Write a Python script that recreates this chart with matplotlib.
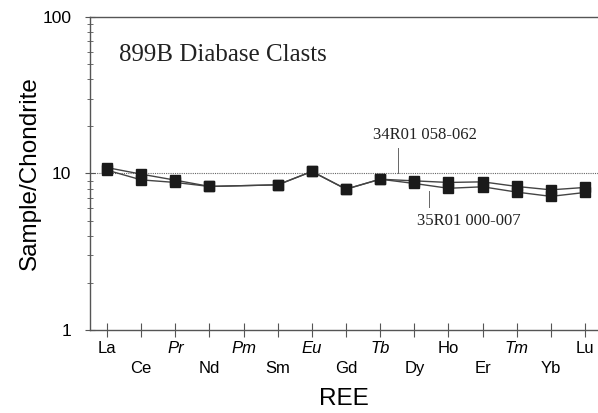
import numpy as np
import matplotlib
matplotlib.use('Agg')
import matplotlib.pyplot as plt
from matplotlib.ticker import LogLocator, NullFormatter, FixedFormatter

plt.rcParams['font.family'] = ['Liberation Sans', 'DejaVu Sans']

# REE chondrite-normalised values (Pm not measured)
ree = ['La', 'Ce', 'Pr', 'Nd', 'Pm', 'Sm', 'Eu', 'Gd', 'Tb', 'Dy', 'Ho', 'Er', 'Tm', 'Yb', 'Lu']
s34r01 = [10.9, 9.9, 9.06, 8.26, np.nan, 8.46, 10.3, 7.94, 9.19, 8.97, 8.76, 8.84, 8.26, 7.86, 8.14]
s35r01 = [10.5, 9.1, 8.76, 8.26, np.nan, 8.46, 10.3, 7.94, 9.19, 8.63, 8.04, 8.22, 7.6, 7.14, 7.56]
italic_labels = ['Pr', 'Pm', 'Eu', 'Tb', 'Tm']

axis_col = '#555555'

fig = plt.figure(figsize=(5.98, 4.13), dpi=100)
ax = fig.add_axes([0.1505, 0.201, 0.8495, 0.758])

x = np.arange(len(ree))
for vals in (s34r01, s35r01):
    v = np.array(vals, dtype=float)
    ok = ~np.isnan(v)
    ax.plot(x[ok], v[ok], '-', color='#444444', lw=1.0,
            marker='s', ms=7.5, mfc='#1a1a1a', mec='#1a1a1a', zorder=3)

ax.axhline(10, ls=(0, (1, 1)), lw=0.8, color='#666666', zorder=1)

ax.set_yscale('log')
ax.set_ylim(1, 100)
ax.set_xlim(-0.5, 14.38)

ax.yaxis.set_minor_locator(LogLocator(base=10, subs=np.arange(2, 10), numticks=10))
ax.yaxis.set_minor_formatter(NullFormatter())
ax.set_yticks([1, 10, 100])
ax.set_yticklabels(['1', '10', '100'])
ax.tick_params(axis='y', which='major', direction='inout', length=7, width=0.8,
               color=axis_col, labelsize=12.5, pad=10)
ax.tick_params(axis='y', which='minor', direction='inout', length=4, width=0.6,
               color=axis_col)

# element names alternate between two rows
ax.set_xticks(x[::2])
ax.set_xticks(x[1::2], minor=True)
ax.xaxis.set_major_formatter(FixedFormatter(ree[::2]))
ax.xaxis.set_minor_formatter(FixedFormatter(ree[1::2]))
ax.tick_params(axis='x', which='both', direction='inout', length=10, width=0.8,
               color=axis_col, labelsize=12)
ax.tick_params(axis='x', which='major', pad=3)
ax.tick_params(axis='x', which='minor', pad=17)
for lab in ax.get_xticklabels() + ax.get_xticklabels(minor=True):
    if lab.get_text() in italic_labels:
        lab.set_style('italic')

for side in ('left', 'bottom', 'top'):
    ax.spines[side].set_color(axis_col)
    ax.spines[side].set_linewidth(1.0)
ax.spines['right'].set_visible(False)

ax.set_ylabel('Sample/Chondrite', fontsize=17.5, labelpad=1)
ax.set_xlabel('REE', fontsize=17.5, labelpad=9)

ax.text(0.057, 0.879, '899B Diabase Clasts', transform=ax.transAxes,
        family='Liberation Serif', fontsize=18, ha='left', va='center', color='#222222')

# sample labels with leader lines
ax.plot([8.52, 8.52], [10.0, 14.6], color='#666666', lw=0.7)
ax.text(7.78, 17.5, '34R01 058-062', family='Liberation Serif', fontsize=12,
        ha='left', va='center', color='#222222')
ax.plot([9.42, 9.42], [6.07, 7.68], color='#666666', lw=0.7)
ax.text(9.07, 4.94, '35R01 000-007', family='Liberation Serif', fontsize=12,
        ha='left', va='center', color='#222222')

fig.savefig('out.png', dpi=100)
